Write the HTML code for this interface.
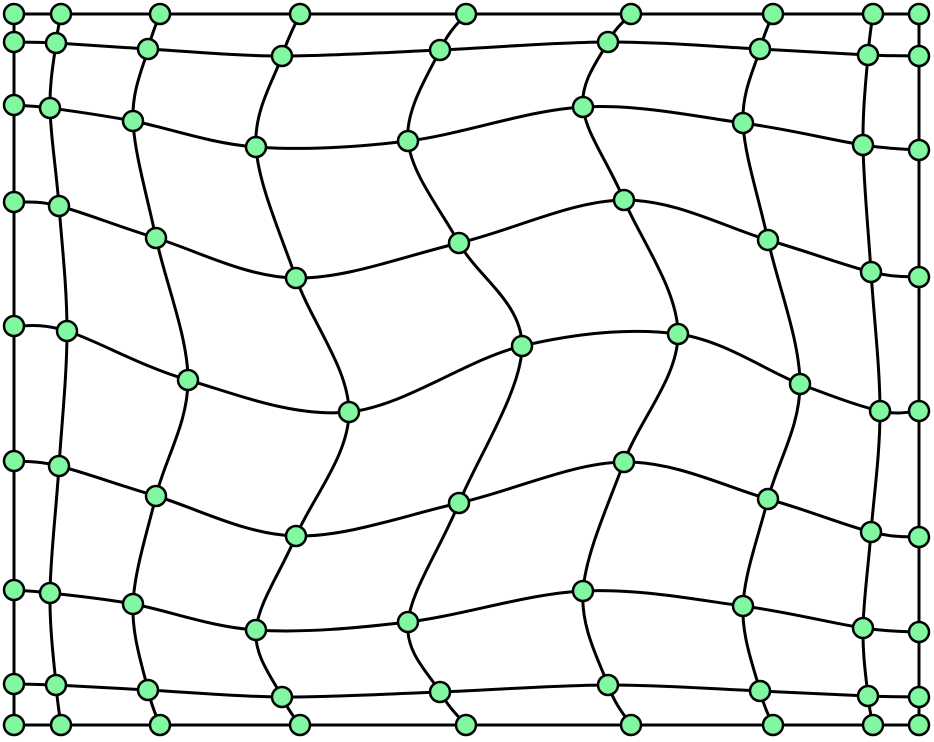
<!DOCTYPE html>
<html><head><meta charset="utf-8"><style>
html,body{margin:0;padding:0;background:#fff;}
svg{display:block;}
</style></head><body>
<svg id="chart" width="934" height="742" viewBox="0 0 934 742" xmlns="http://www.w3.org/2000/svg">
<g id="edges"></g>
<g id="nodes"></g>
</svg>
<script>
const nodeX = [
 [14,61,160,300,466,631,773,873,919],
 [14,56,148,282,440,608,760,868,919],
 [14,50,133,256,408,583,743,863,919],
 [14,59,156,296,459,624,768,871,919],
 [14,67,188,349,522,678,800,880,919],
 [14,59,156,296,459,624,768,871,919],
 [14,50,133,256,408,583,743,863,919],
 [14,56,148,282,440,608,760,868,919],
 [14,61,160,300,466,631,773,873,919]
];
const nodeY = [
 [14,14,14,14,14,14,14,14,14],
 [42,43,49,56,50,42,49,55,56],
 [105,108,121,147,141,107,123,145,150],
 [202,206,238,278,243,200,240,272,277],
 [326,331,380,412,346,334,384,411,411],
 [461,466,496,536,503,462,499,532,537],
 [590,593,604,630,622,591,606,628,632],
 [684,685,690,697,692,685,691,696,697],
 [725,725,725,725,725,725,725,725,725]
];
const NS='http://www.w3.org/2000/svg';
const edges=document.getElementById('edges'), nodes=document.getElementById('nodes');
function spline(pts){
  let d='M'+pts[0][0]+','+pts[0][1];
  for(let i=0;i<pts.length-1;i++){
    const p0=pts[Math.max(0,i-1)],p1=pts[i],p2=pts[i+1],p3=pts[Math.min(pts.length-1,i+2)];
    const c1=[p1[0]+(p2[0]-p0[0])/6,p1[1]+(p2[1]-p0[1])/6];
    const c2=[p2[0]-(p3[0]-p1[0])/6,p2[1]-(p3[1]-p1[1])/6];
    d+=' C'+c1[0]+','+c1[1]+' '+c2[0]+','+c2[1]+' '+p2[0]+','+p2[1];
  }
  return d;
}
function addPath(pts,name){
  const p=document.createElementNS(NS,'path');
  p.setAttribute('d',spline(pts));
  p.setAttribute('fill','none');p.setAttribute('stroke','#000');p.setAttribute('stroke-width','3');
  
  
  edges.appendChild(p);
}
const R=nodeX.length, C=nodeX[0].length;
for(let r=0;r<R;r++){
  const pts=[];for(let c=0;c<C;c++)pts.push([nodeX[r][c],nodeY[r][c]]);
  addPath(pts,'row-line-'+r);
}
for(let c=0;c<C;c++){
  const pts=[];for(let r=0;r<R;r++)pts.push([nodeX[r][c],nodeY[r][c]]);
  addPath(pts,'column-line-'+c);
}
for(let r=0;r<R;r++)for(let c=0;c<C;c++){
  const n=document.createElementNS(NS,'circle');
  n.setAttribute('cx',nodeX[r][c]);n.setAttribute('cy',nodeY[r][c]);n.setAttribute('r','10');
  n.setAttribute('fill','#80f7a0');n.setAttribute('stroke','#000');n.setAttribute('stroke-width','2.5');
  
  
  nodes.appendChild(n);
}
</script>
</body></html>
